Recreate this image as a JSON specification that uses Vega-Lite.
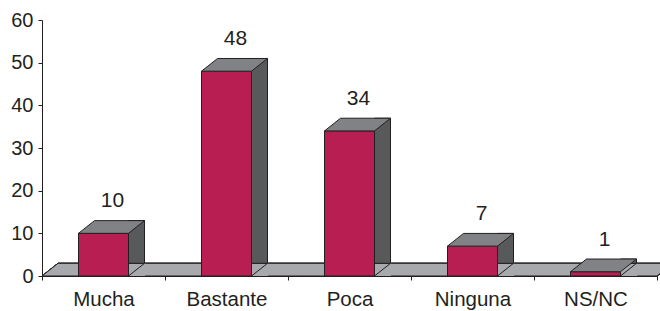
{
  "$schema": "https://vega.github.io/schema/vega-lite/v6.json",
  "width": 615,
  "height": 256,
  "autosize": "none",
  "padding": {"left": 42, "top": 20, "right": 3, "bottom": 35},
  "background": "white",
  "config": {"view": {"stroke": null}, "font": "Liberation Sans"},
  "data": {"values": [
    {"cat": "Mucha", "v": 10},
    {"cat": "Bastante", "v": 48},
    {"cat": "Poca", "v": 34},
    {"cat": "Ninguna", "v": 7},
    {"cat": "NS/NC", "v": 1}
  ]},
  "encoding": {
    "x": {"field": "cat", "type": "nominal", "sort": null,
      "scale": {"paddingInner": 0, "paddingOuter": 0},
      "axis": {"title": null, "labelAngle": 0, "tickBand": "extent", "labelFontSize": 20.5, "labelColor": "#231f20",
        "domainColor": "#231f20", "tickColor": "#231f20", "tickSize": 4, "labelPadding": 9, "labelFont": "Liberation Sans"}},
    "y": {"field": "v", "type": "quantitative",
      "scale": {"domain": [0, 60], "nice": false},
      "axis": {"title": null, "values": [0, 10, 20, 30, 40, 50, 60], "grid": false, "labelFontSize": 20, "labelColor": "#231f20",
        "domainColor": "#231f20", "tickColor": "#231f20", "tickSize": 4, "labelPadding": 5, "labelFont": "Liberation Sans"}}
  },
  "layer": [
    {
      "mark": {"type": "point", "shape": "M-61.5,0L553.5,0L569.5,-12.7L-45.5,-12.7Z", "size": 4, "filled": true,
        "fill": "#a7a9ac", "stroke": "#231f20", "strokeWidth": 1, "opacity": 1},
      "encoding": {"x": {"datum": "Mucha"}, "y": {"datum": 0}}
    },
    {
      "mark": {"type": "bar", "width": 16, "xOffset": 33, "yOffset": -12.7, "y2Offset": 0,
        "fill": "#58595b", "stroke": "#231f20", "strokeWidth": 1}
    },
    {
      "mark": {"type": "point", "shape": "M25,0L41.6,0L41.6,-12.7Z", "size": 4, "filled": true,
        "fill": "#a7a9ac", "strokeWidth": 0, "opacity": 1},
      "encoding": {"y": {"datum": 0}}
    },
    {
      "mark": {"type": "point", "shape": "M25,0L41,-12.7", "size": 4, "filled": false,
        "stroke": "#231f20", "strokeWidth": 1, "opacity": 1},
      "encoding": {"y": {"datum": 0}}
    },
    {
      "mark": {"type": "bar", "width": 50, "fill": "#b91e52", "stroke": "#231f20", "strokeWidth": 1}
    },
    {
      "mark": {"type": "point", "shape": "M-25,0L25,0L41,-12.7L-9,-12.7Z", "size": 4, "filled": true,
        "fill": "#808285", "stroke": "#231f20", "strokeWidth": 1, "opacity": 1}
    },
    {
      "mark": {"type": "text", "dx": 9, "dy": -26, "baseline": "alphabetic", "fontSize": 21, "color": "#231f20", "font": "Liberation Sans"},
      "encoding": {"text": {"field": "v", "type": "quantitative"}}
    }
  ]
}
